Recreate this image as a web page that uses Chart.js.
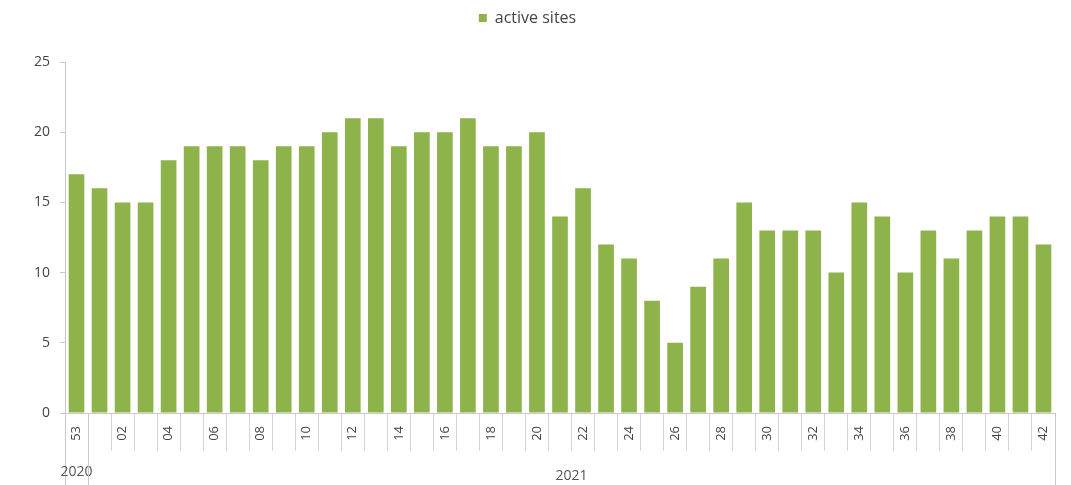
<!DOCTYPE html>
<html>
<head>
<meta charset="utf-8">
<script src="https://cdn.jsdelivr.net/npm/chart.js@4/dist/chart.umd.min.js"></script>
<style>
  html, body { margin: 0; padding: 0; background: #fff; }
  #wrap { width: 1071px; height: 485px; }
</style>
</head>
<body>
<div id="wrap"><canvas id="chart" width="1071" height="485"></canvas></div>
<script>
// Week labels (week 53 of 2020, then weeks 01-42 of 2021)
const weeks = ['53', '01', '02', '03', '04', '05', '06', '07', '08', '09', '10',
    '11', '12', '13', '14', '15', '16', '17', '18', '19', '20',
    '21', '22', '23', '24', '25', '26', '27', '28', '29', '30',
    '31', '32', '33', '34', '35', '36', '37', '38', '39', '40', '41', '42'];

// Active sites per week
const activeSites = [17, 16, 15, 15, 18, 19, 19, 19, 18, 19, 19,
    20, 21, 21, 19, 20, 20, 21, 19, 19, 20,
    14, 16, 12, 11, 8, 5, 9, 11, 15, 13,
    13, 13, 10, 15, 14, 10, 13, 11, 13, 14, 14, 12];

// Year groups: label, first index, last index
const years = ['2020', '2021'];
const yearStart = [0, 1];
const yearEnd = [0, 42];

const yTicks = [0, 5, 10, 15, 20, 25];

const barColor = '#8db34a';
const axisColor = '#c8c8d0';

// Extra room between the legend and the plot
const legendGap = {
    id: 'legendGap',
    beforeInit(chart) {
        const fit = chart.legend.fit;
        chart.legend.fit = function () {
            fit.bind(chart.legend)();
            this.height += 26;
        };
    }
};

// Draws the year row under the week labels
const yearRow = {
    id: 'yearRow',
    afterDraw(chart) {
        const ctx = chart.ctx;
        const x = chart.scales.x;
        const half = (x.getPixelForValue(1) - x.getPixelForValue(0)) / 2;
        ctx.save();
        ctx.strokeStyle = axisColor;
        ctx.lineWidth = 1;
        ctx.fillStyle = '#555';
        ctx.font = '14px "Open Sans", sans-serif';
        ctx.textAlign = 'center';
        ctx.textBaseline = 'middle';
        years.forEach((y, i) => {
            const left = x.getPixelForValue(yearStart[i]) - half;
            const right = x.getPixelForValue(yearEnd[i]) + half;
            ctx.beginPath();
            ctx.moveTo(Math.round(left) + 0.5, x.top);
            ctx.lineTo(Math.round(left) + 0.5, chart.height);
            ctx.stroke();
            if (i === years.length - 1) {
                ctx.beginPath();
                ctx.moveTo(Math.round(right) + 0.5, x.top);
                ctx.lineTo(Math.round(right) + 0.5, chart.height);
                ctx.stroke();
            }
            ctx.fillText(y, (left + right) / 2, i === 0 ? 472 : 476);
        });
        ctx.restore();
    }
};

new Chart(document.getElementById('chart'), {
    type: 'bar',
    data: {
        labels: weeks,
        datasets: [{
            label: 'active sites',
            data: activeSites,
            backgroundColor: barColor,
            categoryPercentage: 1.0,
            barPercentage: 0.68
        }]
    },
    options: {
        responsive: false,
        animation: false,
        layout: { padding: { top: 0, right: 16, bottom: 0, left: 0 } },
        plugins: {
            legend: {
                position: 'top',
                labels: {
                    boxWidth: 8,
                    boxHeight: 8,
                    color: '#444',
                    padding: 10,
                    font: { family: '"Open Sans", sans-serif', size: 16 }
                }
            },
            tooltip: { enabled: false }
        },
        scales: {
            x: {
                offset: true,
                afterFit(scale) { scale.height = 72; },
                grid: {
                    offset: true,
                    drawOnChartArea: false,
                    drawTicks: true,
                    tickLength: 38,
                    color: '#d4d4dc'
                },
                border: { color: axisColor },
                ticks: {
                    autoSkip: false,
                    minRotation: 90,
                    maxRotation: 90,
                    padding: -25,
                    color: '#444',
                    font: { family: '"Open Sans", sans-serif', size: 13 },
                    callback(value, index) {
                        return index % 2 === 0 ? weeks[index] : '';
                    }
                }
            },
            y: {
                min: 0,
                max: 25,
                afterFit(scale) { scale.width = 65; },
                afterBuildTicks(scale) {
                    scale.ticks = yTicks.map(v => ({ value: v }));
                },
                grid: {
                    drawOnChartArea: false,
                    drawTicks: true,
                    tickLength: 5,
                    color: axisColor
                },
                border: { color: axisColor },
                ticks: {
                    color: '#444',
                    padding: 10,
                    font: { family: '"Open Sans", sans-serif', size: 14 }
                }
            }
        }
    },
    plugins: [legendGap, yearRow]
});
</script>
</body>
</html>
